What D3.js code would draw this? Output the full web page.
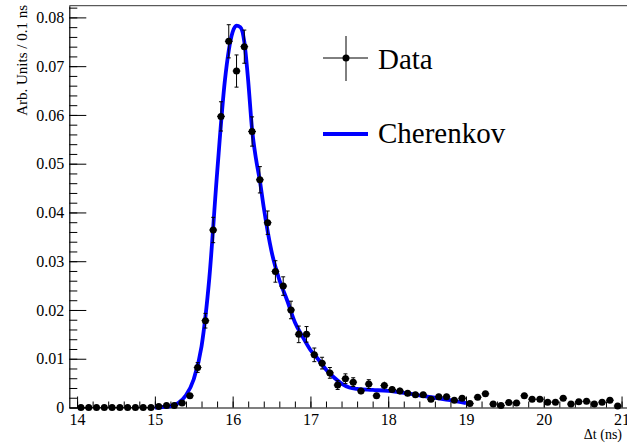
<!DOCTYPE html>
<html lang="en">
<head>
<meta charset="UTF-8">
<title>Cherenkov timing</title>
<style>
  html, body { margin: 0; padding: 0; background: #fff; }
  svg { display: block; font-family: "Liberation Serif", "DejaVu Serif", serif; }
  svg text, .tick text { fill: #000; font-family: "Liberation Serif", "DejaVu Serif", serif; }
</style>
</head>
<body>
<script src="https://cdnjs.cloudflare.com/ajax/libs/d3/7.8.5/d3.min.js"></script>
<script>
// bin centres (ns), bin width 0.1 ns
const binCenters = [
  14.05, 14.15, 14.25, 14.35, 14.45, 14.55, 14.65, 14.75, 14.85, 14.95,
  15.05, 15.15, 15.25, 15.35, 15.45, 15.55, 15.65, 15.75, 15.85, 15.95,
  16.05, 16.15, 16.25, 16.35, 16.45, 16.55, 16.65, 16.75, 16.85, 16.95,
  17.05, 17.15, 17.25, 17.35, 17.45, 17.55, 17.65, 17.75, 17.85, 17.95,
  18.05, 18.15, 18.25, 18.35, 18.45, 18.55, 18.65, 18.75, 18.85, 18.95,
  19.05, 19.15, 19.25, 19.35, 19.45, 19.55, 19.65, 19.75, 19.85, 19.95,
  20.05, 20.15, 20.25, 20.35, 20.45, 20.55, 20.65, 20.75, 20.85, 20.95
];
const dataValues = [
  0, 0, 0, 0, 0, 0, 0, 0, 0, 0,
  0.0002, 0.0004, 0.0004, 0.0009, 0.0024, 0.0082, 0.0178, 0.0364, 0.0597, 0.0751,
  0.0690, 0.0740, 0.0566, 0.0467, 0.0379, 0.0279, 0.0249, 0.0200, 0.0150, 0.0150,
  0.0108, 0.0091, 0.0071, 0.0046, 0.0059, 0.0052, 0.0034, 0.0048, 0.0024, 0.0045,
  0.0037, 0.0034, 0.0029, 0.0026, 0.0026, 0.0017, 0.0022, 0.0022, 0.0015, 0.0019,
  0.0008, 0.0021, 0.0028, 0.0007, 0.0004, 0.0010, 0.0009, 0.0024, 0.0017, 0.0017,
  0.0011, 0.0011, 0.0019, 0.0007, 0.0012, 0.0013, 0.0007, 0.0011, 0.0015, 0.0003
];
const dataErrors = [
  0, 0, 0, 0, 0, 0, 0, 0, 0, 0,
  0.0002, 0.0003, 0.0003, 0.0004, 0.0006, 0.0010, 0.0015, 0.0026, 0.0030, 0.0034,
  0.0033, 0.0034, 0.0030, 0.0027, 0.0024, 0.0022, 0.0019, 0.0018, 0.0017, 0.0016,
  0.0014, 0.0012, 0.0011, 0.0009, 0.0010, 0.0009, 0.0007, 0.0009, 0.0006, 0.0008,
  0.0007, 0.0007, 0.0006, 0.0006, 0.0006, 0.0005, 0.0006, 0.0006, 0.0005, 0.0005,
  0.0004, 0.0005, 0.0006, 0.0003, 0.0002, 0.0004, 0.0004, 0.0006, 0.0005, 0.0005,
  0.0004, 0.0004, 0.0005, 0.0003, 0.0004, 0.0004, 0.0003, 0.0004, 0.0005, 0.0002
];

// fitted Cherenkov curve
const fitT = [
  15.0, 15.1, 15.2, 15.3, 15.4, 15.5, 15.6, 15.7, 15.8, 15.9,
  16.0, 16.05, 16.1, 16.15, 16.2, 16.25, 16.3, 16.35, 16.4, 16.5,
  16.6, 16.7, 16.8, 16.9, 17.0, 17.1, 17.2, 17.3, 17.4, 17.5,
  17.6, 17.8, 18.0, 18.2, 18.4, 18.6, 18.8, 19.0
];
const fitValues = [
  0.0000, 0.0001, 0.0003, 0.0009, 0.0025, 0.0058, 0.0125, 0.0265, 0.0480, 0.0670,
  0.0770, 0.0783, 0.0780, 0.0750, 0.0670, 0.0570, 0.0510, 0.0465, 0.0410, 0.0320,
  0.0262, 0.0220, 0.0175, 0.0145, 0.0118, 0.0099, 0.0078, 0.0062, 0.0049, 0.0041,
  0.0038, 0.0036, 0.0034, 0.0030, 0.0025, 0.0020, 0.0015, 0.0009
];

const xTicks = [14, 15, 16, 17, 18, 19, 20, 21];
const yTicks = [0, 0.01, 0.02, 0.03, 0.04, 0.05, 0.06, 0.07, 0.08];
const yTickLabels = ["0", "0.01", "0.02", "0.03", "0.04", "0.05", "0.06", "0.07", "0.08"];
const xMinorTicks = d3.range(14, 21.01, 0.2);
const yMinorTicks = d3.range(0, 0.0821, 0.002);

const W = 627, H = 448;
const mLeft = 69.3, mRight = 627, mTop = 5.7, mBottom = 407.5;

const svg = d3.select('body').append('svg')
  .attr('width', W)
  .attr('height', H);

const x = d3.scaleLinear().domain([13.9, 21.07]).range([mLeft, mRight]);
const y = d3.scaleLinear().domain([0, 0.0824]).range([mBottom, mTop]);

// top frame line
svg.append('line')
  .attr('x1', mLeft).attr('x2', mRight)
  .attr('y1', mTop).attr('y2', mTop)
  .attr('stroke', '#333').attr('stroke-width', 1);

// x axis: minor then major, ticks pointing up into the plot
svg.append('g')
  .attr('transform', `translate(0,${mBottom})`)
  .call(d3.axisBottom(x).tickValues(xMinorTicks).tickFormat('').tickSizeInner(-6).tickSizeOuter(0))
  .call(g => g.select('.domain').remove());

svg.append('g')
  .attr('transform', `translate(0,${mBottom})`)
  .call(d3.axisBottom(x).tickValues(xTicks).tickFormat(d3.format('d')).tickSizeInner(-11).tickSizeOuter(0).tickPadding(6))
  .attr('font-size', 16)
  .call(g => g.select('.domain').attr('stroke-width', 1.2));

// y axis
svg.append('g')
  .attr('transform', `translate(${mLeft},0)`)
  .call(d3.axisLeft(y).tickValues(yMinorTicks).tickFormat('').tickSizeInner(-8).tickSizeOuter(0))
  .call(g => g.select('.domain').remove());

svg.append('g')
  .attr('transform', `translate(${mLeft},0)`)
  .call(d3.axisLeft(y).tickValues(yTicks).tickFormat((d, i) => yTickLabels[i]).tickSizeInner(-17).tickSizeOuter(0).tickPadding(5))
  .attr('font-size', 16)
  .call(g => g.select('.domain').attr('stroke-width', 1.2));

// axis titles
svg.append('text')
  .attr('x', 622).attr('y', 439)
  .attr('text-anchor', 'end')
  .style('font-size', '14px')
  .text('Δt (ns)');

svg.append('text')
  .attr('transform', 'translate(27,5) rotate(-90)')
  .attr('text-anchor', 'end')
  .style('font-size', '15px')
  .text('Arb. Units / 0.1 ns');

// fit curve
const fitData = fitT.map((t, i) => ({ t, v: fitValues[i] }));
svg.append('path')
  .datum(fitData)
  .attr('fill', 'none')
  .attr('stroke', '#0000ff')
  .attr('stroke-width', 3.8)
  .attr('stroke-linejoin', 'round')
  .attr('d', d3.line().x(d => x(d.t)).y(d => y(d.v)).curve(d3.curveMonotoneX));

// data points with error bars
const pts = binCenters.map((t, i) => ({ t, v: dataValues[i], e: dataErrors[i] }));
const pg = svg.append('g').attr('stroke', '#000').attr('stroke-width', 1);

pg.selectAll('.hbar').data(pts).enter().append('line')
  .attr('x1', d => x(d.t - 0.05)).attr('x2', d => x(d.t + 0.05))
  .attr('y1', d => y(d.v)).attr('y2', d => y(d.v));

pg.selectAll('.vbar').data(pts.filter(d => d.e > 0)).enter().append('line')
  .attr('x1', d => x(d.t)).attr('x2', d => x(d.t))
  .attr('y1', d => y(d.v - d.e)).attr('y2', d => y(d.v + d.e));

pg.selectAll('.capTop').data(pts.filter(d => d.e > 0.0008)).enter().append('line')
  .attr('x1', d => x(d.t) - 2).attr('x2', d => x(d.t) + 2)
  .attr('y1', d => y(d.v + d.e)).attr('y2', d => y(d.v + d.e));

pg.selectAll('.capBot').data(pts.filter(d => d.e > 0.0008)).enter().append('line')
  .attr('x1', d => x(d.t) - 2).attr('x2', d => x(d.t) + 2)
  .attr('y1', d => y(d.v - d.e)).attr('y2', d => y(d.v - d.e));

svg.append('g').selectAll('circle').data(pts).enter().append('circle')
  .attr('cx', d => x(d.t)).attr('cy', d => y(d.v))
  .attr('r', 3.5).attr('fill', '#000');

// legend
const leg = svg.append('g');
leg.append('line').attr('x1', 323).attr('x2', 368).attr('y1', 58).attr('y2', 58).attr('stroke', '#000');
leg.append('line').attr('x1', 346).attr('x2', 346).attr('y1', 36).attr('y2', 81).attr('stroke', '#000');
leg.append('circle').attr('cx', 346).attr('cy', 58).attr('r', 3.5).attr('fill', '#000');
leg.append('text').attr('x', 378).attr('y', 69).style('font-size', '29px').text('Data');

leg.append('line').attr('x1', 323).attr('x2', 368).attr('y1', 134).attr('y2', 134)
  .attr('stroke', '#0000ff').attr('stroke-width', 3.8);
leg.append('text').attr('x', 378).attr('y', 143).style('font-size', '29px').text('Cherenkov');
</script>
</body>
</html>
